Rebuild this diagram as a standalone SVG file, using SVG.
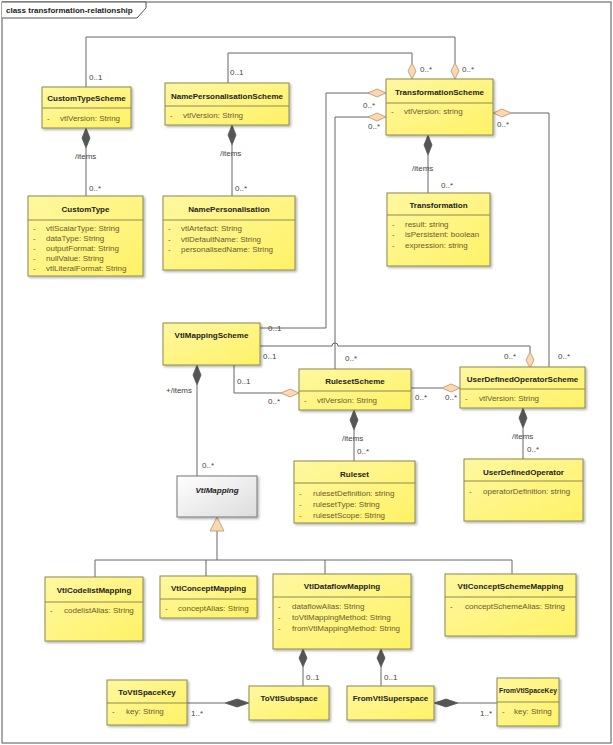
<svg xmlns="http://www.w3.org/2000/svg" width="613" height="745" viewBox="0 0 613 745">
<defs>
<linearGradient id="y" x1="0" y1="0" x2="1" y2="1"><stop offset="0" stop-color="#fff7a0"/><stop offset="1" stop-color="#fff266"/></linearGradient>
<linearGradient id="g" x1="0" y1="0" x2="1" y2="1"><stop offset="0" stop-color="#ffffff"/><stop offset="1" stop-color="#dcdcdc"/></linearGradient>
<filter id="sh" x="-10%" y="-10%" width="130%" height="130%"><feDropShadow dx="1.5" dy="1.5" stdDeviation="1" flood-color="#000" flood-opacity="0.3"/></filter>
<style>
.n{fill:url(#y);stroke:#8a8a50;stroke-width:1;filter:url(#sh)}
.a{fill:url(#g);stroke:#777;stroke-width:1;filter:url(#sh)}
.s{stroke:#8a8a50;stroke-width:1}
.t{font-family:"Liberation Sans",Arial,sans-serif;font-size:8px;font-weight:bold;fill:#222;text-anchor:middle}
.at{font-family:"Liberation Sans",Arial,sans-serif;font-size:8px;fill:#6b5a30}
.l{font-family:"Liberation Sans",Arial,sans-serif;font-size:8px;fill:#444}
.c path.e,.c polyline{fill:none;stroke:#666;stroke-width:1}
.h{fill:#fbd9b0;stroke:#b89070;stroke-width:0.8}
.f{fill:#555;stroke:#555;stroke-width:0.8}
</style>
</defs>
<rect x="0" y="0" width="613" height="745" fill="#fff"/>
<rect x="2" y="2" width="609" height="741" fill="none" stroke="#555" stroke-width="1"/>
<path d="M2,2 H146 V8 L137,18 H2" fill="#fff" stroke="#555" stroke-width="1"/>
<text x="6" y="13" class="l" style="font-weight:bold;fill:#222">class transformation-relationship</text>

<g class="c" id="connectors">
<polyline points="86,87 86,37 455,37 455,63"/>
<polyline points="228,83 228,53 412,53 412,63"/>
<polyline points="369,93 326,93 326,328 260,328"/>
<polyline points="369,117 335,117 335,369"/>
<polyline points="511,113 549,113 549,367"/>
<path class="e" d="M260,346 H332 A3,3 0 0 1 338,346 H530 V352"/>
<polyline points="234,365 234,393 281,393"/>
<polyline points="411,388 442,388"/>
<polyline points="86,148 86,196"/>
<polyline points="232,145 232,196"/>
<polyline points="428,155 428,193"/>
<polyline points="354,430 354,461"/>
<polyline points="523,428 523,459"/>
<polyline points="197,385 197,476"/>
<polyline points="217,531 217,560"/>
<polyline points="95,577 95,560 512,560 512,574"/>
<polyline points="206,560 206,576"/>
<polyline points="325,560 325,574"/>
<polyline points="303,667 303,686"/>
<polyline points="381,667 381,686"/>
<polyline points="187,703 225,703"/>
<polyline points="458,703 497,703"/>
<path class="h" d="M455,63 l4,8 l-4,8 l-4,-8z"/>
<path class="h" d="M412,63 l4,8 l-4,8 l-4,-8z"/>
<path class="h" d="M386,93 l-9,-4 l-9,4 l9,4z"/>
<path class="h" d="M386,117 l-9,-4 l-9,4 l9,4z"/>
<path class="h" d="M493,113 l9,-4 l9,4 l-9,4z"/>
<path class="h" d="M530,352 l4,8 l-4,8 l-4,-8z"/>
<path class="h" d="M299,393 l-9,-4 l-9,4 l9,4z"/>
<path class="h" d="M460,388 l-9,-4 l-9,4 l9,4z"/>
<path class="h" d="M217,517 l7,14 h-14z"/>
<path class="f" d="M86,128 l4,10 l-4,10 l-4,-10z"/>
<path class="f" d="M232,125 l4,10 l-4,10 l-4,-10z"/>
<path class="f" d="M428,135 l4,10 l-4,10 l-4,-10z"/>
<path class="f" d="M354,410 l4,10 l-4,10 l-4,-10z"/>
<path class="f" d="M523,408 l4,10 l-4,10 l-4,-10z"/>
<path class="f" d="M197,365 l4,10 l-4,10 l-4,-10z"/>
<path class="f" d="M303,649 l4,9 l-4,9 l-4,-9z"/>
<path class="f" d="M381,649 l4,9 l-4,9 l-4,-9z"/>
<path class="f" d="M249,703 l-12,-4 l-12,4 l12,4z"/>
<path class="f" d="M434,703 l12,-4 l12,4 l-12,4z"/>
<text class="l" x="89" y="80">0..1</text>
<text class="l" x="230" y="75">0..1</text>
<text class="l" x="420" y="72">0..*</text>
<text class="l" x="462" y="72">0..*</text>
<text class="l" x="363" y="108">0..*</text>
<text class="l" x="368" y="129">0..*</text>
<text class="l" x="497" y="127">0..*</text>
<text class="l" x="75" y="159">/items</text>
<text class="l" x="89" y="191">0..*</text>
<text class="l" x="220" y="156">/items</text>
<text class="l" x="235" y="191">0..*</text>
<text class="l" x="412" y="171">/items</text>
<text class="l" x="441" y="188">0..*</text>
<text class="l" x="268" y="331">0..1</text>
<text class="l" x="263" y="359">0..1</text>
<text class="l" x="345" y="361">0..*</text>
<text class="l" x="504" y="359">0..*</text>
<text class="l" x="558" y="359">0..*</text>
<text class="l" x="237" y="384">0..1</text>
<text class="l" x="268" y="404">0..*</text>
<text class="l" x="415" y="400">0..*</text>
<text class="l" x="445" y="400">0..*</text>
<text class="l" x="342" y="441">/items</text>
<text class="l" x="357" y="454">0..*</text>
<text class="l" x="512" y="439">/items</text>
<text class="l" x="527" y="452">0..*</text>
<text class="l" x="166" y="393">+/items</text>
<text class="l" x="202" y="468">0..*</text>
<text class="l" x="306" y="680">0..1</text>
<text class="l" x="384" y="680">0..1</text>
<text class="l" x="191" y="716">1..*</text>
<text class="l" x="480" y="716">1..*</text>
</g>

<g id="CustomTypeScheme"><rect class="n" x="42" y="87" width="89" height="41"/><line class="s" x1="42" y1="108" x2="131" y2="108"/><text class="t" x="86.5" y="101">CustomTypeScheme</text><text class="at" x="47" y="121">-</text><text class="at" x="60" y="121">vtlVersion: String</text></g>
<g id="NamePersonalisationScheme"><rect class="n" x="165" y="83" width="124" height="42"/><line class="s" x1="165" y1="106" x2="289" y2="106"/><text class="t" x="227" y="99">NamePersonalisationScheme</text><text class="at" x="170" y="118">-</text><text class="at" x="183" y="118">vtlVersion: String</text></g>
<g id="TransformationScheme"><rect class="n" x="386" y="79" width="107" height="56"/><line class="s" x1="386" y1="103" x2="493" y2="103"/><text class="t" x="439.5" y="95">TransformationScheme</text><text class="at" x="391" y="114">-</text><text class="at" x="404" y="114">vtlVersion: string</text></g>
<g id="CustomType"><rect class="n" x="28" y="196" width="115" height="80"/><line class="s" x1="28" y1="220" x2="143" y2="220"/><text class="t" x="85.5" y="212">CustomType</text>
<text class="at" x="33" y="231">-</text><text class="at" x="46" y="231">vtlScalarType: String</text>
<text class="at" x="33" y="241">-</text><text class="at" x="46" y="241">dataType: String</text>
<text class="at" x="33" y="251">-</text><text class="at" x="46" y="251">outputFormat: String</text>
<text class="at" x="33" y="261">-</text><text class="at" x="46" y="261">nullValue: String</text>
<text class="at" x="33" y="271">-</text><text class="at" x="46" y="271">vtlLiteralFormat: String</text></g>
<g id="NamePersonalisation"><rect class="n" x="163" y="196" width="132" height="74"/><line class="s" x1="163" y1="220" x2="295" y2="220"/><text class="t" x="229" y="212">NamePersonalisation</text>
<text class="at" x="168" y="231">-</text><text class="at" x="181" y="231">vtlArtefact: String</text>
<text class="at" x="168" y="242">-</text><text class="at" x="181" y="242">vtlDefaultName: String</text>
<text class="at" x="168" y="252">-</text><text class="at" x="181" y="252">personalisedName: String</text></g>
<g id="Transformation"><rect class="n" x="387" y="193" width="103" height="73"/><line class="s" x1="387" y1="215" x2="490" y2="215"/><text class="t" x="438.5" y="208">Transformation</text>
<text class="at" x="392" y="227">-</text><text class="at" x="405" y="227">result: string</text>
<text class="at" x="392" y="237">-</text><text class="at" x="405" y="237">isPersistent: boolean</text>
<text class="at" x="392" y="248">-</text><text class="at" x="405" y="248">expression: string</text></g>
<g id="VtlMappingScheme"><rect class="n" x="163" y="323" width="97" height="42"/><text class="t" x="211.5" y="338">VtlMappingScheme</text></g>
<g id="RulesetScheme"><rect class="n" x="299" y="369" width="112" height="41"/><line class="s" x1="299" y1="391" x2="411" y2="391"/><text class="t" x="355" y="384">RulesetScheme</text><text class="at" x="304" y="403">-</text><text class="at" x="317" y="403">vtlVersion: String</text></g>
<g id="UserDefinedOperatorScheme"><rect class="n" x="460" y="367" width="125" height="41"/><line class="s" x1="460" y1="389" x2="585" y2="389"/><text class="t" x="522.5" y="382">UserDefinedOperatorScheme</text><text class="at" x="465" y="401">-</text><text class="at" x="479" y="401">vtlVersion: String</text></g>
<g id="Ruleset"><rect class="n" x="294" y="461" width="121" height="62"/><line class="s" x1="294" y1="483" x2="415" y2="483"/><text class="t" x="354.5" y="477">Ruleset</text>
<text class="at" x="299" y="496">-</text><text class="at" x="313" y="496">rulesetDefinition: string</text>
<text class="at" x="299" y="507">-</text><text class="at" x="313" y="507">rulesetType: String</text>
<text class="at" x="299" y="518">-</text><text class="at" x="313" y="518">rulesetScope: String</text></g>
<g id="UserDefinedOperator"><rect class="n" x="464" y="459" width="119" height="62"/><line class="s" x1="464" y1="481" x2="583" y2="481"/><text class="t" x="523.5" y="475">UserDefinedOperator</text>
<text class="at" x="469" y="494">-</text><text class="at" x="483" y="494">operatorDefinition: string</text></g>
<g id="VtlMapping"><rect class="a" x="177" y="476" width="80" height="41"/><text class="t" x="217" y="493" font-style="italic">VtlMapping</text></g>
<g id="VtlCodelistMapping"><rect class="n" x="45" y="577" width="98" height="64"/><line class="s" x1="45" y1="602" x2="143" y2="602"/><text class="t" x="94" y="593">VtlCodelistMapping</text><text class="at" x="50" y="613">-</text><text class="at" x="64" y="613">codelistAlias: String</text></g>
<g id="VtlConceptMapping"><rect class="n" x="160" y="576" width="97" height="42"/><line class="s" x1="160" y1="599" x2="257" y2="599"/><text class="t" x="208.5" y="591">VtlConceptMapping</text><text class="at" x="165" y="611">-</text><text class="at" x="178" y="611">conceptAlias: String</text></g>
<g id="VtlDataflowMapping"><rect class="n" x="273" y="574" width="138" height="75"/><line class="s" x1="273" y1="597" x2="411" y2="597"/><text class="t" x="342" y="589">VtlDataflowMapping</text>
<text class="at" x="278" y="609">-</text><text class="at" x="292" y="609">dataflowAlias: String</text>
<text class="at" x="278" y="620">-</text><text class="at" x="292" y="620">toVtlMappingMethod: String</text>
<text class="at" x="278" y="631">-</text><text class="at" x="292" y="631">fromVtlMappingMethod: String</text></g>
<g id="VtlConceptSchemeMapping"><rect class="n" x="445" y="574" width="131" height="62"/><line class="s" x1="445" y1="597" x2="576" y2="597"/><text class="t" x="510.5" y="589">VtlConceptSchemeMapping</text><text class="at" x="450" y="609">-</text><text class="at" x="465" y="609">conceptSchemeAlias: String</text></g>
<g id="ToVtlSpaceKey"><rect class="n" x="107" y="680" width="80" height="45"/><line class="s" x1="107" y1="703" x2="187" y2="703"/><text class="t" x="147" y="695">ToVtlSpaceKey</text><text class="at" x="112" y="714">-</text><text class="at" x="126" y="714">key: String</text></g>
<g id="ToVtlSubspace"><rect class="n" x="249" y="686" width="80" height="34"/><text class="t" x="289" y="701">ToVtlSubspace</text></g>
<g id="FromVtlSuperspace"><rect class="n" x="347" y="686" width="87" height="34"/><text class="t" x="390.5" y="701">FromVtlSuperspace</text></g>
<g id="FromVtlSpaceKey"><rect class="n" x="497" y="678" width="62" height="48"/><line class="s" x1="497" y1="702" x2="559" y2="702"/><text class="t" x="528" y="693" textLength="58" lengthAdjust="spacingAndGlyphs">FromVtlSpaceKey</text><text class="at" x="502" y="714">-</text><text class="at" x="514" y="714">key: String</text></g>
</svg>
